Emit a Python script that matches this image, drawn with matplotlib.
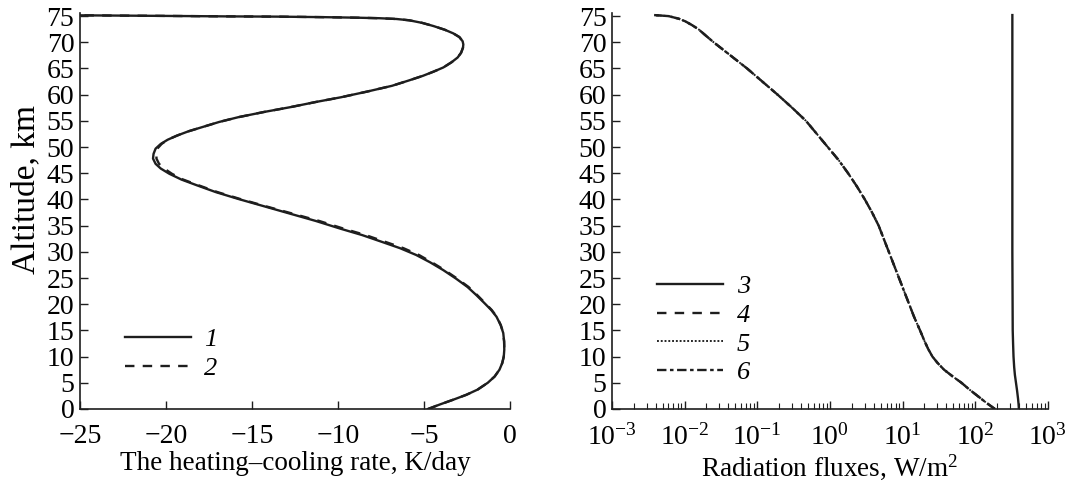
import numpy as np
import matplotlib.pyplot as plt

plt.rcParams['font.family'] = ['Liberation Serif', 'DejaVu Serif']
plt.rcParams['mathtext.fontset'] = 'custom'
plt.rcParams['mathtext.rm'] = 'Liberation Serif'
plt.rcParams['mathtext.it'] = 'Liberation Serif:italic'
plt.rcParams['axes.unicode_minus'] = True

# left panel: heating-cooling rate, K/day
alt1 = [0, 0.9, 1.8, 2.7, 3.7, 5.0, 6.2, 7.5, 8.75, 10.0, 11.3, 12.9, 14.5, 16.0,
        17.6, 18.9, 20.2, 21.7, 23.3, 24.9, 26.5, 28.0, 29.4, 30.7, 31.9, 33.2,
        34.4, 35.9, 37.3, 38.7, 40.1, 41.4, 42.7, 43.8, 44.9, 45.9, 46.8, 47.8,
        48.7, 49.7, 50.6, 51.4, 52.2, 53.0, 53.8, 54.8, 55.7, 56.7, 57.6, 58.6,
        59.5, 60.6, 61.7, 62.7, 63.6, 64.4, 65.2, 66.2, 67.1, 68.0, 68.97, 69.6,
        70.2, 71.0, 71.7, 72.4, 73.1, 73.7, 74.2, 74.45, 74.6, 74.7, 74.8, 74.9,
        74.95, 75.05, 75.15]
rate1 = [-4.77, -4.05, -3.28, -2.55, -1.89, -1.3, -0.9, -0.62, -0.46, -0.37,
         -0.34, -0.35, -0.4, -0.55, -0.79, -1.1, -1.49, -1.95, -2.48, -3.15,
         -3.88, -4.65, -5.46, -6.4, -7.45, -8.6, -9.84, -11.3, -12.8, -14.3,
         -15.8, -17.1, -18.2, -19.1, -19.8, -20.3, -20.6, -20.75, -20.72, -20.6,
         -20.3, -19.9, -19.35, -18.7, -17.9, -16.9, -15.8, -14.3, -12.8, -11.3,
         -9.84, -8.3, -6.86, -5.9, -5.07, -4.45, -3.88, -3.4, -3.05, -2.85,
         -2.74, -2.72, -2.76, -2.95, -3.3, -3.8, -4.45, -5.1, -5.86, -6.6,
         -7.6, -8.9, -10.8, -13.5, -16.5, -20.5, -25.0]
rate2 = [-4.77, -4.05, -3.28, -2.55, -1.89, -1.3, -0.9, -0.62, -0.46, -0.37,
         -0.34, -0.35, -0.4, -0.54, -0.77, -1.07, -1.45, -1.9, -2.42, -3.08,
         -3.8, -4.55, -5.3, -6.2, -7.25, -8.4, -9.65, -11.1, -12.65, -14.2,
         -15.7, -17.0, -18.1, -19.0, -19.65, -20.1, -20.4, -20.55, -20.55,
         -20.5, -20.25, -19.9, -19.35, -18.7, -17.9, -16.9, -15.8, -14.3,
         -12.8, -11.3, -9.84, -8.3, -6.86, -5.9, -5.07, -4.45, -3.88, -3.4,
         -3.05, -2.85, -2.74, -2.72, -2.76, -2.95, -3.3, -3.8, -4.45, -5.1,
         -5.86, -6.6, -7.6, -8.9, -10.8, -13.5, -16.5, -20.5, -25.0]

# right panel: radiation fluxes, W/m^2 (log10 values)
alt_flux = [0, 1.2, 2.4, 3.7, 5, 6.2, 7.5, 8.8, 10, 11.5, 13, 15, 17.5, 20, 22.5,
            25, 27.5, 30, 32.5, 35, 37.5, 40, 42.5, 45, 47.5, 50, 52.5, 55, 57.5,
            60, 62.5, 65, 67.5, 70, 71.3, 72.5, 73.3, 74, 74.5, 75, 75.2]
log_flux = [2.27, 2.15, 2.04, 1.92, 1.81, 1.69, 1.57, 1.48, 1.41, 1.35, 1.30,
            1.24, 1.16, 1.09, 1.02, 0.95, 0.88, 0.81, 0.74, 0.67, 0.58, 0.48,
            0.37, 0.25, 0.12, -0.03, -0.18, -0.33, -0.52, -0.72, -0.93, -1.14,
            -1.37, -1.60, -1.71, -1.81, -1.90, -1.99, -2.08, -2.22, -2.42]
alt3 = [0, 1, 2, 3.5, 5, 6.5, 8, 10, 12.5, 15, 30, 50, 75.2]
log3 = [2.60, 2.595, 2.588, 2.575, 2.56, 2.545, 2.535, 2.526, 2.52, 2.515,
        2.51, 2.51, 2.51]

c = '#1e1e1e'
lw = 1.7
fs_tick = 20
fs_xlab = 19.5
fs_ylab = 24
fs_leg = 19

fig = plt.figure(figsize=(10.65, 4.82), dpi=100)
ax1 = fig.add_axes([0.075, 0.1515, 0.404, 0.8205])
ax2 = fig.add_axes([0.5746, 0.1515, 0.4094, 0.8205])

ax1.plot(rate1, alt1, color=c, lw=lw, label='1')
ax1.plot(rate2, alt1, color=c, lw=lw, ls=(0, (4, 3.5)), label='2')
ax1.set_xlim(-25, 0)
ax1.set_ylim(0, 75.5)
ax1.set_xticks([-25, -20, -15, -10, -5, 0])
ax1.set_yticks(np.arange(0, 80, 5))
ax1.set_xlabel('The heating\u2013cooling rate, K/day', fontsize=fs_xlab, labelpad=1)
ax1.set_ylabel('Altitude, km', fontsize=fs_ylab)
ax1.yaxis.set_label_coords(-0.09, 0.555)
ax1.legend(loc='upper left', bbox_to_anchor=(0.05, 0.265), frameon=False,
           handlelength=2.5, handletextpad=0.5, labelspacing=0.2,
           prop={'style': 'italic', 'size': fs_leg, 'family': 'Liberation Serif'})

flux = 10 ** np.array(log_flux)
ax2.plot(10 ** np.array(log3), alt3, color=c, lw=lw, label='3')
ax2.plot(flux, alt_flux, color=c, lw=lw, ls=(0, (4, 3.5)), label='4')
ax2.plot(flux, alt_flux, color=c, lw=lw * 0.8, ls=(0, (1, 1)), label='5')
ax2.plot(flux, alt_flux, color=c, lw=lw, ls=(0, (4, 1.5, 1.5, 1.5)), label='6')
ax2.set_xscale('log')
ax2.set_xlim(1e-3, 1e3)
ax2.set_ylim(0, 75.5)
ax2.set_yticks(np.arange(0, 80, 5))
ax2.set_xlabel('Radiation fluxes, W/m$^2$', fontsize=fs_xlab, labelpad=1)
ax2.legend(loc='upper left', bbox_to_anchor=(0.05, 0.40), frameon=False,
           handlelength=2.5, handletextpad=0.5, labelspacing=0.2,
           prop={'style': 'italic', 'size': fs_leg, 'family': 'Liberation Serif'})

for ax in (ax1, ax2):
    ax.spines['top'].set_visible(False)
    ax.spines['right'].set_visible(False)
    for s in ('left', 'bottom'):
        ax.spines[s].set_linewidth(1.2)
        ax.spines[s].set_color(c)
    ax.tick_params(direction='in', length=6, width=1.0, colors=c,
                   labelsize=fs_tick, labelcolor='black')
    ax.tick_params(axis='x', pad=11)
    ax.tick_params(axis='y', pad=4)
    ax.tick_params(which='minor', direction='in', length=4, width=0.8, colors=c)
ax1.tick_params(axis='y', which='minor', left=False)
ax2.tick_params(axis='y', which='minor', left=False)

fig.savefig('out.png', dpi=100)
